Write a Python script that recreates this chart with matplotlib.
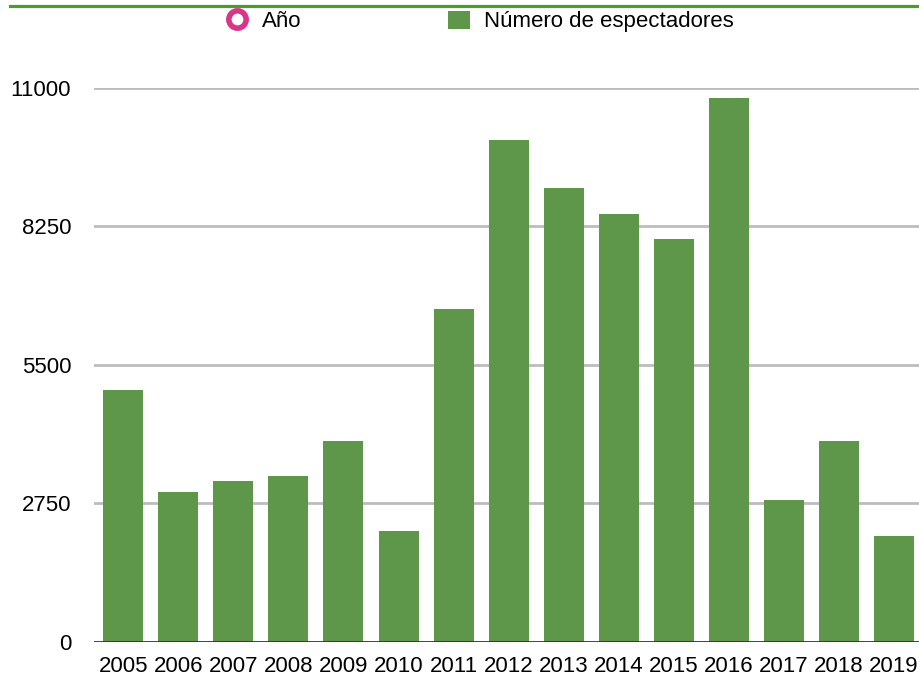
import matplotlib
matplotlib.use("Agg")
import matplotlib.pyplot as plt
from matplotlib.lines import Line2D
from matplotlib.patches import Patch

plt.rcParams['font.family'] = ['Liberation Sans', 'DejaVu Sans']

# Espectadores por año
anios = ['2005', '2006', '2007', '2008', '2009', '2010', '2011', '2012',
         '2013', '2014', '2015', '2016', '2017', '2018', '2019']
espectadores = [5000, 2970, 3190, 3290, 3990, 2200, 6610, 9970,
                9020, 8500, 8000, 10810, 2810, 3990, 2100]
ticks_y = [0, 2750, 5500, 8250, 11000]

verde = '#5e9749'
rosa = '#d9358b'
fs = 16

W, H = 920, 678
fig = plt.figure(figsize=(W / 100, H / 100), dpi=100)
ax = fig.add_axes([94 / W, 36.5 / H, 1 - 94 / W, 553.5 / H])

x = list(range(len(anios)))
ax.bar(x, espectadores, width=0.727, color=verde, zorder=3)

ax.set_ylim(0, 11000)
ax.set_xlim(-0.53, len(anios) - 0.53)
ax.set_yticks(ticks_y)
ax.set_yticklabels([str(t) for t in ticks_y], fontsize=fs)
ax.set_xticks(x)
ax.set_xticklabels(anios, fontsize=fs)
ax.tick_params(axis='y', length=0, pad=16.5)
ax.tick_params(axis='x', length=0, pad=10.5)

for t in ticks_y[1:]:
    ax.axhline(t, color='#bcbcbc', lw=2, zorder=1)
ax.axhline(0, color='#333333', lw=2, zorder=4)

for s in ax.spines.values():
    s.set_visible(False)

# linea verde superior
fig.add_artist(Line2D([10 / W, 1], [1 - 6 / H, 1 - 6 / H], color='#4f9a2a', lw=2.3))

handles = [
    Line2D([], [], marker='o', ls='none', markersize=12.5, markerfacecolor='white',
           markeredgecolor=rosa, markeredgewidth=4),
    Patch(facecolor=verde, edgecolor='none'),
]
fig.legend(handles, ['Año', 'Número de espectadores'], loc='center',
           bbox_to_anchor=(0.5215, 1 - 21.5 / H), ncol=2, frameon=False,
           fontsize=fs, handlelength=1.0, handleheight=0.9,
           handletextpad=0.6, columnspacing=6.6)

fig.savefig('out.png', dpi=100)
